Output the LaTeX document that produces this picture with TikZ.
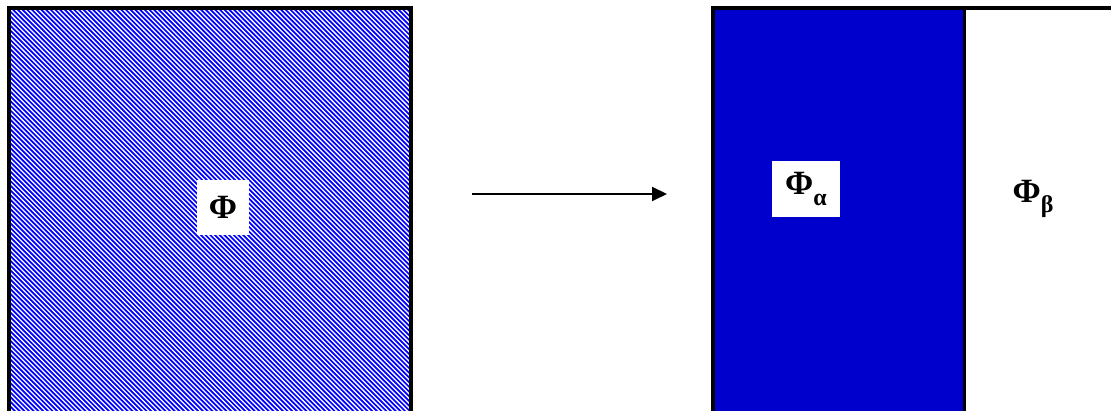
\documentclass[tikz,border=0pt]{standalone}
\usepackage{fontspec}
\setmainfont{Liberation Serif}
\usetikzlibrary{arrows.meta,positioning}
\definecolor{phblue}{HTML}{0000FF}
\definecolor{phdeep}{HTML}{0000CC}
\tikzset{
  region/.style={rectangle, inner sep=0pt, anchor=north west},
  tag/.style={rectangle, inner sep=0pt, align=center, font=\fontsize{34}{34}\selectfont\bfseries},
  stripe/.style={draw=phblue, line width=1.7pt},
  ar/.style={-{Triangle[length=15pt,width=14pt]}, line width=2pt},
}
\newcommand{\sub}[1]{\raisebox{-0.3em}{\fontsize{24}{24}\selectfont #1}}

\begin{document}
\begin{tikzpicture}[x=1pt,y=1pt]
\useasboundingbox (0,0) rectangle (1111,410);
\clip (0,0) rectangle (1111,410);

% ---------- left: mixed phase ----------
\node[region, minimum width=402, minimum height=430] (phi) at (9,402) {};
\begin{scope}
  \clip (phi.south west) rectangle (phi.north east);
  \foreach \i in {0,...,185}
    \draw[stripe] ({-421+\i*4.7},402) -- ++(450,-450);
\end{scope}
\draw[line width=4pt] (phi.south west) rectangle (phi.north east);
\node[tag, fill=white, minimum width=52, minimum height=55] (phiL) at (223,202.5) {Φ};

% ---------- arrow ----------
\coordinate (arrS) at (472,216);
\coordinate (arrE) at (667,216);
\draw[ar] (arrS) -- (arrE);

% ---------- right: separated phases ----------
\node[region, minimum width=250, minimum height=430, fill=phdeep, draw, line width=1.5pt]
      (pa) at (713,402) {};
\node[region, minimum width=300, minimum height=430, draw, line width=1.5pt]
      (pb) at (pa.north east) {};
\draw[line width=3.5pt] (pa.south west) |- (pb.north east);
\node[tag, fill=white, minimum width=68, minimum height=56] (paL) at (806,221) {Φ\sub{α}};
\node[tag] (pbL) at (1033,211) {Φ\sub{β}};
\end{tikzpicture}
\end{document}
